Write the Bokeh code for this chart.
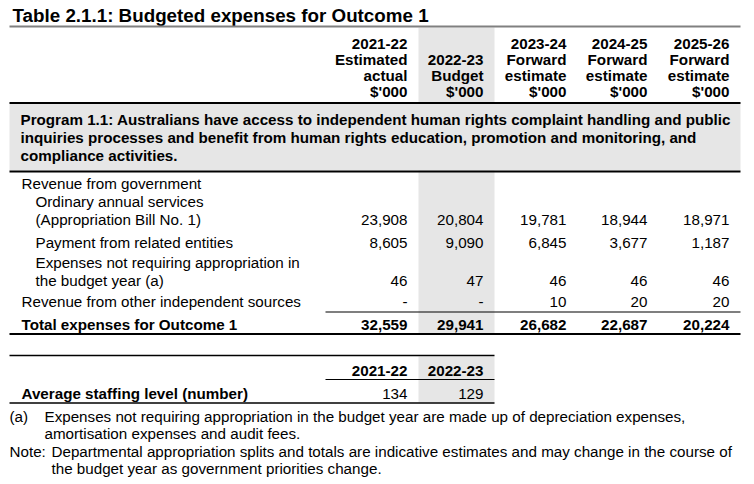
from bokeh.plotting import figure
from bokeh.models import ColumnDataSource, Range1d
from bokeh.core.properties import value
from bokeh.embed import file_html
from bokeh.resources import INLINE

# ---------------- data ----------------
title = "Table 2.1.1: Budgeted expenses for Outcome 1"
col_headers = [
    ["2021-22", "Estimated", "actual", "$'000"],
    ["", "2022-23", "Budget", "$'000"],
    ["2023-24", "Forward", "estimate", "$'000"],
    ["2024-25", "Forward", "estimate", "$'000"],
    ["2025-26", "Forward", "estimate", "$'000"],
]
program_lines = [
    "Program 1.1: Australians have access to independent human rights complaint handling and public",
    "inquiries processes and benefit from human rights education, promotion and monitoring, and",
    "compliance activities.",
]
row_labels = [
    ("Revenue from government", 0),
    ("Ordinary annual services", 1),
    ("(Appropriation Bill No. 1)", 1),
    ("Payment from related entities", 1),
    ("Expenses not requiring appropriation in", 1),
    ("the budget year (a)", 1),
    ("Revenue from other independent sources", 0),
]
ordinary_services = [23908, 20804, 19781, 18944, 18971]
related_entities = [8605, 9090, 6845, 3677, 1187]
not_requiring_approp = [46, 47, 46, 46, 46]
other_sources = [None, None, 10, 20, 20]
total_label = "Total expenses for Outcome 1"
total_expenses = [32559, 29941, 26682, 22687, 20224]

staff_years = ["2021-22", "2022-23"]
staff_label = "Average staffing level (number)"
staff_values = [134, 129]

foot_a = ["Expenses not requiring appropriation in the budget year are made up of depreciation expenses,",
          "amortisation expenses and audit fees."]
foot_note = ["Departmental appropriation splits and totals are indicative estimates and may change in the course of",
             "the budget year as government priorities change."]

# ---------------- layout ----------------
FONT = value("Liberation Sans")
FS = "15.2px"
W, H = 754, 484
col_right = [407, 483, 566, 647, 729]
band_l, band_r = 418, 494
left, right = 9, 740
hdr_y = [43, 59, 75, 91]
prog_y = [119, 137, 155]
label_y = [183, 201, 219, 242, 262, 280, 301]
val_rows_y = [219, 242, 280, 301]
total_y = 324

p = figure(width=W, height=H, output_backend="svg", toolbar_location=None,
           x_range=Range1d(0, W), y_range=Range1d(H, 0),
           min_border=0, outline_line_color=None)
p.axis.visible = False
p.grid.visible = False
p.background_fill_color = "white"
p.border_fill_color = "white"


def fmt(v):
    return "-" if v is None else f"{v:,}"


def txt(xs, ys, texts, align="left", size=FS, style="normal", color="black"):
    src = ColumnDataSource(dict(x=xs, y=ys, t=texts))
    p.text(x="x", y="y", text="t", source=src, text_align=align, text_baseline="middle",
           text_font=FONT, text_font_size=value(size), text_font_style=style, text_color=color)


GRAY = "#e6e6e6"
# gray budget column band
p.quad(left=[band_l], right=[band_r], top=[27], bottom=[333], fill_color=GRAY, line_color=None)
# program box
p.quad(left=[left], right=[right], top=[103], bottom=[170], fill_color=GRAY, line_color=None)

# title
txt([12], [15], [title], size="18.8px", style="bold")
p.segment(x0=[left], y0=[26], x1=[right], y1=[26], line_color="#808080", line_width=2)

# column headers
for ci, lines in enumerate(col_headers):
    txt([col_right[ci]] * 4, hdr_y, lines, align="right", style="bold")
p.segment(x0=[left], y0=[102.5], x1=[right], y1=[102.5], line_color="black", line_width=2)

# program text
txt([20] * 3, prog_y, program_lines, style="bold")
p.segment(x0=[left], y0=[171], x1=[right], y1=[171], line_color="black", line_width=2)

# row labels
txt([21 + 14 * ind for _, ind in row_labels], label_y, [l for l, _ in row_labels])

# values
series = [ordinary_services, related_entities, not_requiring_approp, other_sources]
for ry, ser in zip(val_rows_y, series):
    txt(col_right, [ry] * 5, [fmt(v) for v in ser], align="right")

p.segment(x0=[325], y0=[311.5], x1=[right], y1=[311.5], line_color="black", line_width=1.2)
txt([21], [total_y], [total_label], style="bold")
txt(col_right, [total_y] * 5, [fmt(v) for v in total_expenses], align="right", style="bold")
p.segment(x0=[left], y0=[333.5], x1=[right], y1=[333.5], line_color="black", line_width=2)

# staffing table
p.quad(left=[band_l], right=[band_r], top=[356], bottom=[402], fill_color=GRAY, line_color=None)
p.segment(x0=[left], y0=[355], x1=[band_r], y1=[355], line_color="black", line_width=1.5)
txt(col_right[:2], [370, 370], staff_years, align="right", style="bold")
p.segment(x0=[325], y0=[379], x1=[band_r], y1=[379], line_color="black", line_width=1.2)
txt([21], [393], [staff_label], style="bold")
txt(col_right[:2], [393, 393], [str(v) for v in staff_values], align="right")
p.segment(x0=[left], y0=[402.5], x1=[band_r], y1=[402.5], line_color="black", line_width=1.5)

# footnotes
txt([9], [416], ["(a)"])
txt([44, 44], [416, 433], foot_a)
txt([9], [451], ["Note:"])
txt([51, 51], [451, 468], foot_note)

open("out.html", "w").write(file_html(p, INLINE))
